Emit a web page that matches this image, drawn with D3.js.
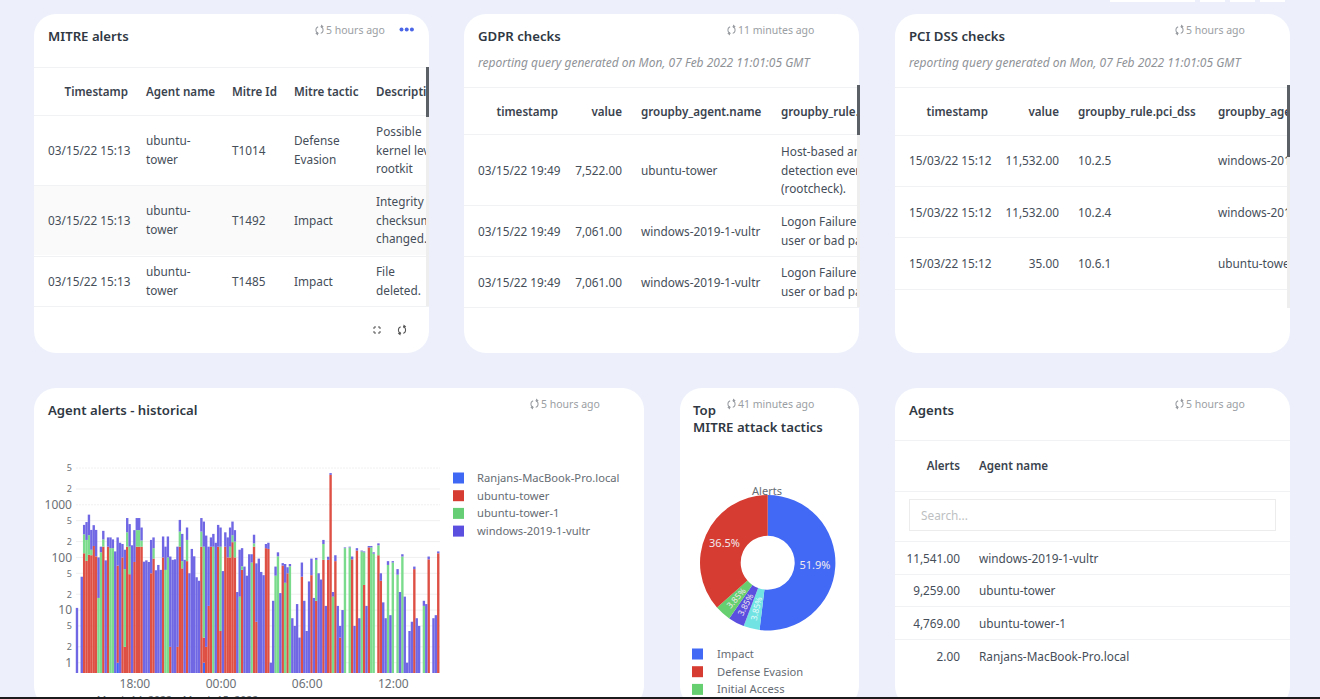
<!DOCTYPE html>
<html><head><meta charset="utf-8">
<script src="https://cdn.jsdelivr.net/npm/d3@7"></script>
<style>
html,body{margin:0;padding:0;background:#edf0fb;overflow:hidden}
svg{display:block;font-family:"Noto Sans",sans-serif}
text{fill:#454e59;font-size:11.8px}
.hd{font-weight:600;fill:#3a434e;font-size:11.6px}
.ttl{font-weight:600;font-size:13.2px;fill:#2f3843}
.ago{fill:#9a9ea3;font-size:10.5px}
.sub{fill:#8f9398;font-style:italic;font-size:12px}
.lg{fill:#666c73;font-size:11.2px}
</style></head><body><div id="c"></div>
<script>
// ---- bar chart data (counts per 10 minute bucket, from 14:00 on March 14) ----
const seriesNames=["Ranjans-MacBook-Pro.local","ubuntu-tower","ubuntu-tower-1","windows-2019-1-vultr"];
const seriesColors=["#3f68f5","#de4f44","#7adb8c","#6f67e3"];
const legendColors=["#3f68f5","#d63c31","#66cf76","#5b4fe0"];
const ranjans=[0,0,0,0,0,0,0,0,0,0,0,0,0,0,0,0,0,1,0,0,0,0,0,0,0,0,0,0,0,0,0,0,0,0,0,0,0,0,0,0,0,0,0,0,0,0,0,0,0,0,0,0,0,1];
const ubuntuTower=[0,0,0,120,86,113,110,165,105,0,0,160,0,160,0,0,0,69,0,100,2,160,48,0,82,160,160,160,0,0,0,50,95,0,0,0,100,0,0,2,0,0,2,160,62,0,85,0,0,0,0,0,160,2,2,12,160,0,0,160,4,0,160,100,100,195,100,0,0,58,0,0,0,0,160,6,0,0,0,150,145,0,0,0,0,0,70,0,50,0,0,0,0,0,43,0,0,0,46,0,15,0,0,90,0,90,3700,0,85,0,3,0,0,0,0,92,0,135,0,0,30,0,155,0,0,0,110,36,0,0,0,0,0,0,0,0,0,0,0,0,0,60,0,0,0,0,0,92,0,0,0,120];
const ubuntuTower1=[0,0,0,155,129,152,30,0,0,17,125,60,0,0,150,150,0,0,0,0,58,140,112,0,0,170,170,50,0,0,0,0,55,0,0,0,0,58,100,0,0,0,0,150,23,0,130,0,0,0,0,0,150,157,0,0,0,160,0,0,156,0,0,0,60,70,100,0,18,10,0,0,0,80,25,0,0,0,0,0,0,0,0,45,105,0,0,33,0,68,0,0,0,0,0,0,0,0,0,0,75,0,0,90,0,0,0,18,0,0,0,0,150,0,155,0,0,0,0,130,95,0,0,155,118,0,60,0,0,0,72,0,80,0,47,0,104,0,0,0,0,0,0,0,0,12,0,0,0,0,0,0];
const windowsVultr=[11,0,43,140,255,385,193,245,228,83,35,100,88,80,90,70,130,170,190,80,80,260,270,170,248,230,230,160,83,88,82,165,90,57,72,58,150,102,150,102,90,92,158,206,195,90,155,50,145,105,42,36,250,320,258,148,80,120,190,255,210,55,140,140,210,215,130,22,122,82,67,45,115,35,85,71,95,53,46,30,45,1,15,22,20,21,8,42,15,7,7,5,13,3,37,15,4,35,49,17,8,50,38,35,12,13,300,4,25,12,2,10,5,0,5,12,5,15,7,5,5,12,10,10,7,0,15,14,14,7,13,8,5,0,13,22,11,18,1,4,6,7,7,5,0,3,13,12,0,7,8,10];
const yTicks=[5000,2000,1000,500,200,100,50,20,10,5,2,1];
const xTicks=["2022-03-14T18:00","2022-03-15T00:00","2022-03-15T06:00","2022-03-15T12:00"];
const xDates=[["2022-03-14T18:00","March 14, 2022"],["2022-03-15T00:00","March 15, 2022"]];
// ---- pie data ----
const tacticNames=["Impact","Privilege Escalation","Persistence","Initial Access","Defense Evasion"];
const tacticValues=[51.9,3.85,3.85,3.85,36.5];
const tacticColors=["#4169f5","#72e3e3","#5b4fe0","#66cf6f","#d63c31"];
const tacticLegend=["Impact","Defense Evasion","Initial Access"];
// ---- table data ----
const mitreHead=["Timestamp","Agent name","Mitre Id","Mitre tactic","Description"];
const mitreRows=[
 ["03/15/22 15:13",["ubuntu-","tower"],"T1014",["Defense","Evasion"],["Possible","kernel level","rootkit"]],
 ["03/15/22 15:13",["ubuntu-","tower"],"T1492","Impact",["Integrity","checksum","changed."]],
 ["03/15/22 15:13",["ubuntu-","tower"],"T1485","Impact",["File","deleted."]]];
const gdprHead=["timestamp","value","groupby_agent.name","groupby_rule.description"];
const gdprRows=[
 ["03/15/22 19:49","7,522.00","ubuntu-tower",["Host-based anomaly","detection event","(rootcheck)."]],
 ["03/15/22 19:49","7,061.00","windows-2019-1-vultr",["Logon Failure - Unknown","user or bad password"]],
 ["03/15/22 19:49","7,061.00","windows-2019-1-vultr",["Logon Failure - Unknown","user or bad password"]]];
const pciHead=["timestamp","value","groupby_rule.pci_dss","groupby_agent.name"];
const pciRows=[
 ["15/03/22 15:12","11,532.00","10.2.5","windows-2019-1-vultr"],
 ["15/03/22 15:12","11,532.00","10.2.4","windows-2019-1-vultr"],
 ["15/03/22 15:12","35.00","10.6.1","ubuntu-tower"]];
const agentHead=["Alerts","Agent name"];
const agentRows=[["11,541.00","windows-2019-1-vultr"],["9,259.00","ubuntu-tower"],["4,769.00","ubuntu-tower-1"],["2.00","Ranjans-MacBook-Pro.local"]];

const svg=d3.select("#c").append("svg").attr("width",1320).attr("height",699);
const defs=svg.append("defs");
function clip(id,x,y,w,h){defs.append("clipPath").attr("id",id).append("rect").attr("x",x).attr("y",y).attr("width",w).attr("height",h);}

// top strip of toolbar buttons
[[1110,85],[1200,25],[1230,25],[1260,25]].forEach(b=>svg.append("rect").attr("x",b[0]).attr("y",-4).attr("width",b[1]).attr("height",6).attr("fill","#fff"));

function card(x,y,w,h,title,ago,agoX){
  svg.append("rect").attr("x",x).attr("y",y).attr("width",w).attr("height",h).attr("rx",22).attr("fill","#fff");
  const lines=Array.isArray(title)?title:[title];
  lines.forEach((t,i)=>svg.append("text").attr("class","ttl").attr("x",x+14-(lines.length===2?1:0)).attr("y",y+26.7+i*16.8).text(t));
  refresh(agoX-6.5,y+16,"#9a9ea3");
  svg.append("text").attr("class","ago").attr("x",agoX).attr("y",y+20).text(ago);
}
function refresh(cx,cy,col){
  const a=d3.arc().innerRadius(3.1).outerRadius(4.1);
  const g=svg.append("g").attr("transform",`translate(${cx},${cy})`);
  g.append("path").attr("d",a({startAngle:0.3,endAngle:2.8})).attr("fill",col);
  g.append("path").attr("d",a({startAngle:3.4,endAngle:5.9})).attr("fill",col);
  g.append("path").attr("d","M1.5,-5.6L1.5,-1.8L4.2,-3.6Z").attr("fill",col);
  g.append("path").attr("d","M-1.5,5.6L-1.5,1.8L-4.2,3.6Z").attr("fill",col);
}
function hline(x1,x2,y,c){svg.append("line").attr("x1",x1).attr("x2",x2).attr("y1",y+.5).attr("y2",y+.5).attr("stroke",c||"#f1f2f4");}
function txt(g,x,y,t,anchor,cls){
  return g.append("text").attr("x",x).attr("y",y+4.6).attr("text-anchor",anchor||"start").attr("class",cls||null).text(t);
}
function cell(g,x,yc,v){
  if(Array.isArray(v)){v.forEach((s,i)=>txt(g,x,yc+(i-(v.length-1)/2)*18.7,s));}
  else txt(g,x,yc,v);
}
function scrollbar(x,y1,y2,ye){
  svg.append("rect").attr("x",x).attr("y",y1).attr("width",3).attr("height",ye-y1).attr("fill","#eeeeee");
  svg.append("rect").attr("x",x).attr("y",y1).attr("width",3).attr("height",y2-y1).attr("fill","#5b5f66");
}

// ---- MITRE alerts ----
card(34,14,395,339,"MITRE alerts","5 hours ago",326);
clip("c1",34,60,392,250);
svg.append("rect").attr("x",34).attr("y",186).attr("width",392).attr("height",69).attr("fill","#fafafa");
[67,115,185,256,306].forEach(y=>hline(34,429,y));
const g1=svg.append("g").attr("clip-path","url(#c1)");
txt(g1,128,91,mitreHead[0],"end","hd");
[[146,1],[232,2],[294,3],[376,4]].forEach(d=>txt(g1,d[0],91,mitreHead[d[1]],"start","hd"));
[150,220,281].forEach((yc,i)=>{
  const r=mitreRows[i];txt(g1,48,yc,r[0]);
  [146,232,294,376].forEach((x,j)=>cell(g1,x,yc,r[j+1]));
});
scrollbar(426,67,117,306);
d3.range(3).forEach(i=>svg.append("circle").attr("cx",401.5+i*5.2).attr("cy",29.5).attr("r",2).attr("fill","#4c66e8"));
{const g=svg.append("g").attr("transform","translate(377,330)").attr("fill","none").attr("stroke","#555").attr("stroke-width",1);
 ["M-3,-1V-3H-1","M1,-3H3V-1","M3,1V3H1","M-1,3H-3V1"].forEach(d=>g.append("path").attr("d",d));}
refresh(402,330,"#555");

// ---- GDPR ----
card(464,14,395,339,"GDPR checks","11 minutes ago",738);
svg.append("text").attr("class","sub").attr("x",478).attr("y",67).text("reporting query generated on Mon, 07 Feb 2022 11:01:05 GMT");
clip("c2",464,80,393,230);
[87,134,205,256,307].forEach(y=>hline(464,859,y));
const g2=svg.append("g").attr("clip-path","url(#c2)");
txt(g2,558,111,gdprHead[0],"end","hd");txt(g2,622,111,gdprHead[1],"end","hd");
txt(g2,641,111,gdprHead[2],"start","hd");txt(g2,781,111,gdprHead[3],"start","hd");
[170,231,282].forEach((yc,i)=>{
  const r=gdprRows[i];txt(g2,478,yc,r[0]);txt(g2,622,yc,r[1],"end");txt(g2,641,yc,r[2]);cell(g2,781,yc,r[3]);
});
scrollbar(857,85,135,307);

// ---- PCI ----
card(895,14,395,339,"PCI DSS checks","5 hours ago",1186);
svg.append("text").attr("class","sub").attr("x",909).attr("y",67).text("reporting query generated on Mon, 07 Feb 2022 11:01:05 GMT");
clip("c3",895,80,393,230);
[87,135,186,237,289].forEach(y=>hline(895,1290,y));
const g3=svg.append("g").attr("clip-path","url(#c3)");
txt(g3,988,111,pciHead[0],"end","hd");txt(g3,1059,111,pciHead[1],"end","hd");
txt(g3,1078,111,pciHead[2],"start","hd");txt(g3,1218,111,pciHead[3],"start","hd");
[160,212,263].forEach((yc,i)=>{
  const r=pciRows[i];txt(g3,909,yc,r[0]);txt(g3,1059,yc,r[1],"end");txt(g3,1078,yc,r[2]);txt(g3,1218,yc,r[3]);
});
scrollbar(1287,85,157,308);

// ---- Agent alerts - historical ----
card(34,388,610,320,"Agent alerts - historical","5 hours ago",541);
const parse=d3.timeParse("%Y-%m-%dT%H:%M");
const start=parse("2022-03-14T14:00");
const buckets=windowsVultr.map((v,i)=>({t:d3.timeMinute.offset(start,i*10),
  [seriesNames[0]]:ranjans[i]||0,[seriesNames[1]]:ubuntuTower[i],[seriesNames[2]]:ubuntuTower1[i],[seriesNames[3]]:v}));
const x=d3.scaleTime().domain([parse("2022-03-14T18:00"),parse("2022-03-15T12:00")]).range([134.4,392.8]);
const y=d3.scaleLog().domain([1,5000]).range([662.7,468]);
const yBase=673;
const chart=svg.append("g");
chart.append("g").attr("class","grid").selectAll("line").data(yTicks).join("line")
  .attr("x1",76).attr("x2",440).attr("y1",d=>y(d)).attr("y2",d=>y(d))
  .attr("stroke","#f0f0f0").attr("stroke-dasharray",d=>(d===5000||d===1000)?"2,1":null);
const stack=d3.stack().keys(seriesNames)(buckets);
const barW=2.38;
chart.selectAll("g.s").data(stack).join("g").attr("class","s").attr("fill",(d,i)=>seriesColors[i])
  .selectAll("rect").data(d=>d.filter(p=>p[1]>p[0])).join("rect")
  .attr("x",p=>x(p.data.t)-barW/2).attr("width",barW)
  .attr("y",p=>y(p[1]))
  .attr("height",p=>(p[0]>0?y(p[0]):yBase)-y(p[1]));
const yAxis=d3.axisLeft(y).tickValues(yTicks).tickSize(0).tickPadding(0)
  .tickFormat(d=>/^1/.test(String(d))?String(d):String(d).charAt(0));
const ya=svg.append("g").attr("transform","translate(72,0)").call(yAxis);
ya.select(".domain").remove();
ya.selectAll("text").style("fill","#6b7076").style("font-size",d=>/^1/.test(String(d))?"12px":"9px").style("font-family","Noto Sans");
const xAxis=d3.axisBottom(x).tickValues(xTicks.map(parse)).tickSize(0).tickPadding(0).tickFormat(d3.timeFormat("%H:%M"));
const xa=svg.append("g").attr("transform","translate(0,679)").call(xAxis);
xa.select(".domain").remove();
xa.selectAll("text").style("fill","#6b7076").style("font-size","12px").style("font-family","Noto Sans");
xDates.forEach(d=>svg.append("text").attr("x",x(parse(d[0]))).attr("y",703.5).attr("text-anchor","middle").style("fill","#6b7076").style("font-size","10.5px").text(d[1]));
seriesNames.forEach((n,i)=>{
  const yy=478+i*17.7;
  svg.append("rect").attr("x",453).attr("y",yy-5.5).attr("width",11).attr("height",11).attr("fill",legendColors[i]);
  svg.append("text").attr("class","lg").attr("x",477).attr("y",yy+4).text(n);
});

// ---- pie ----
card(680,388,179,320,["Top","MITRE attack tactics"],"41 minutes ago",738);
svg.append("text").attr("x",767).attr("y",495).attr("text-anchor","middle").style("font-size","11px").style("fill","#666c73").text("Alerts");
const arc=d3.arc().innerRadius(27).outerRadius(67.7);
const pieG=svg.append("g").attr("transform","translate(767.7,562.7)");
const arcs=d3.pie().sort(null)(tacticValues);
pieG.selectAll("path").data(arcs).join("path").attr("d",arc).attr("fill",(d,i)=>tacticColors[i]);
pieG.selectAll("text").data(arcs).join("text").attr("text-anchor","middle").attr("dy","0.35em")
  .attr("transform",d=>{
    const c=arc.centroid(d),a=(d.startAngle+d.endAngle)/2*180/Math.PI;
    return `translate(${c})`+(d.value<10?` rotate(${a-270})`:"");
  }).style("fill",(d,i)=>i===1?"#e8fbfb":"#f1e9ee").style("font-size",d=>d.value<10?"8.5px":"11px")
  .text(d=>d.value<10?d.value.toFixed(2)+"%":d.value.toFixed(1)+"%");
tacticLegend.forEach((n,i)=>{
  const yy=654+i*17.7;
  svg.append("rect").attr("x",692).attr("y",yy-5.5).attr("width",11).attr("height",11).attr("fill",tacticColors[tacticNames.indexOf(n)]);
  svg.append("text").attr("class","lg").attr("x",717).attr("y",yy+4).text(n);
});

// ---- Agents ----
card(895,388,395,320,"Agents","5 hours ago",1186);
[440,491,541,574,606,639].forEach(y=>hline(895,1290,y));
txt(svg,960,465,agentHead[0],"end","hd");txt(svg,979,465,agentHead[1],"start","hd");
svg.append("rect").attr("x",909.5).attr("y",499.5).attr("width",366).attr("height",31).attr("fill","#fff").attr("stroke","#ececec");
txt(svg,921,515,"Search...").style("fill","#bdbfc2");
[558,590,623,656].forEach((yc,i)=>{txt(svg,960,yc,agentRows[i][0],"end");txt(svg,979,yc,agentRows[i][1]);});

// bottom window edge
svg.append("rect").attr("x",0).attr("y",697).attr("width",1320).attr("height",2).attr("fill","#1b1b1d");
</script></body></html>
